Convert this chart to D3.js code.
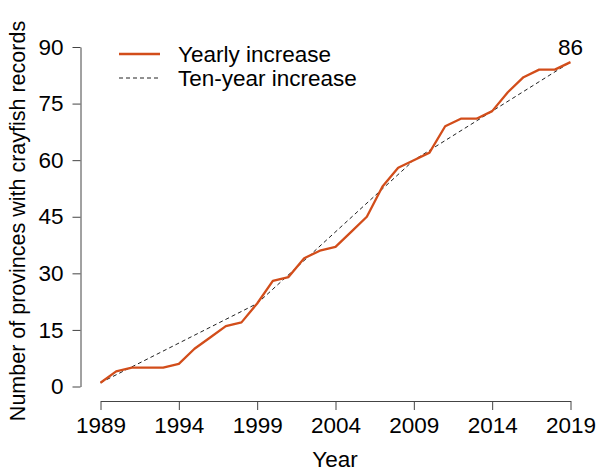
<!DOCTYPE html>
<html>
<head>
<meta charset="utf-8">
<script src="https://cdn.jsdelivr.net/npm/d3@7"></script>
<style>
  body { margin: 0; background: #fff; }
  svg { font-family: "Liberation Sans", Arial, sans-serif; }
</style>
</head>
<body>
<svg width="597" height="472"></svg>
<script>
// yearly cumulative count of provinces, 1989-2019
const years = d3.range(1989, 2020);
const yearly = [1, 4, 5, 5, 5, 6, 10, 13, 16, 17, 22, 28, 29, 34, 36, 37, 41, 45, 53, 58, 60, 62, 69, 71, 71, 73, 78, 82, 84, 84, 86];
// ten-year steps
const decadeYears = [1989, 1999, 2009, 2019];
const decadeVals = [1, 22, 60, 86];
const xTicks = [1989, 1994, 1999, 2004, 2009, 2014, 2019];
const yTicks = [0, 15, 30, 45, 60, 75, 90];

const svg = d3.select('svg');
const x = d3.scaleLinear().domain([1989, 2019]).range([100.5, 570.5]);
const y = d3.scaleLinear().domain([0, 90]).range([386.5, 47]);
const axisCol = '#444';
const fs = 22.5;

// y axis, set off to the left like base R
const yAx = svg.append('g').attr('transform', 'translate(80.5,0)')
  .call(d3.axisLeft(y).tickValues(yTicks).tickSize(8).tickPadding(9).tickSizeOuter(0));
// x axis, set off below
const xAx = svg.append('g').attr('transform', 'translate(0,401)')
  .call(d3.axisBottom(x).tickValues(xTicks).tickFormat(d3.format('d')).tickSize(9).tickPadding(7).tickSizeOuter(0));

[yAx, xAx].forEach(g => {
  g.select('.domain').attr('stroke', axisCol);
  g.selectAll('.tick line').attr('stroke', axisCol);
  g.selectAll('text').attr('fill', '#000').style('font-size', fs + 'px').style('font-family', 'Liberation Sans, Arial, sans-serif');
});

// dashed ten-year line
svg.append('path')
  .datum(decadeYears.map((d, i) => [d, decadeVals[i]]))
  .attr('fill', 'none').attr('stroke', '#222').attr('stroke-width', 1)
  .attr('stroke-dasharray', '4,3')
  .attr('d', d3.line().x(d => x(d[0])).y(d => y(d[1])));

// yearly line
svg.append('path')
  .datum(years.map((d, i) => [d, yearly[i]]))
  .attr('fill', 'none').attr('stroke', '#d24d1a').attr('stroke-width', 2.3)
  .attr('stroke-linejoin', 'round')
  .attr('d', d3.line().x(d => x(d[0])).y(d => y(d[1])));

// end label
svg.append('text')
  .attr('x', x(2019)).attr('y', y(90)).attr('text-anchor', 'middle')
  .attr('dominant-baseline', 'central').style('font-size', fs + 'px')
  .text(yearly[yearly.length - 1]);

// legend
const legend = [
  {label: 'Yearly increase', color: '#d24d1a', w: 2.3, dash: null},
  {label: 'Ten-year increase', color: '#222', w: 1, dash: '4,3'}
];
legend.forEach((d, i) => {
  const ly = 54 + i * 24;
  svg.append('line').attr('x1', 119).attr('x2', 160).attr('y1', ly).attr('y2', ly)
    .attr('stroke', d.color).attr('stroke-width', d.w).attr('stroke-dasharray', d.dash);
  svg.append('text').attr('x', 178).attr('y', ly).attr('dominant-baseline', 'central')
    .style('font-size', fs + 'px').text(d.label);
});

// axis titles
svg.append('text').attr('x', 335).attr('y', 459).attr('text-anchor', 'middle')
  .attr('dominant-baseline', 'central').style('font-size', fs + 'px').text('Year');
svg.append('text').attr('transform', 'translate(18,' + 221 + ') rotate(-90)')
  .attr('text-anchor', 'middle').attr('dominant-baseline', 'central')
  .style('font-size', '21.5px').text('Number of provinces with crayfish records');
</script>
</body>
</html>
